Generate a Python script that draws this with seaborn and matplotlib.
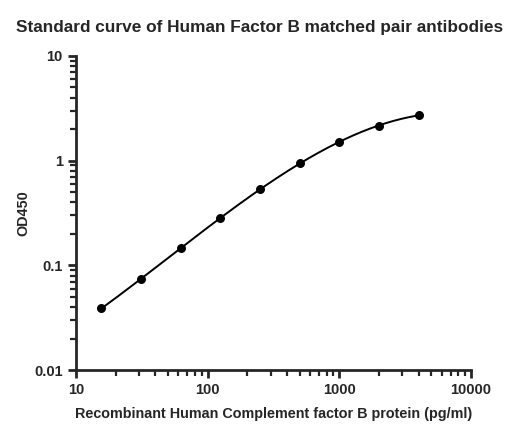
import numpy as np
import pandas as pd
import matplotlib
matplotlib.use("Agg")
import matplotlib.pyplot as plt
import seaborn as sns

# standard curve data
conc = [15.625, 31.25, 62.5, 125, 250, 500, 1000, 2000, 4000]
od450 = [0.039, 0.074, 0.146, 0.283, 0.536, 0.948, 1.51, 2.14, 2.73]

title = "Standard curve of Human Factor B matched pair antibodies"
xlabel = "Recombinant Human Complement factor B protein (pg/ml)"
ylabel = "OD450"

df = pd.DataFrame({"conc": conc, "od": od450})

sns.set_style("ticks")
plt.rcParams["font.family"] = ["Liberation Sans", "DejaVu Sans"]
plt.rcParams["font.weight"] = "bold"

fig = plt.figure(figsize=(5.2, 4.37), dpi=100)
ax = fig.add_axes([0.146, 0.153, 0.760, 0.719])

# smooth fitted curve in log-log space
lx = np.log10(df["conc"])
ly = np.log10(df["od"])
coef = np.polyfit(lx, ly, 3)
xs = np.linspace(lx.min(), lx.max(), 200)
fit = pd.DataFrame({"conc": 10 ** xs, "od": 10 ** np.polyval(coef, xs)})

sns.lineplot(data=fit, x="conc", y="od", color="black", linewidth=1.4, ax=ax)
sns.scatterplot(data=df, x="conc", y="od", color="black", s=42, edgecolor="black",
                linewidth=0, ax=ax, zorder=3)

ax.set_xscale("log")
ax.set_yscale("log")
ax.set_xlim(10, 10000)
ax.set_ylim(0.01, 10)
ax.set_xticks([10, 100, 1000, 10000])
ax.set_xticklabels(["10", "100", "1000", "10000"])
ax.set_yticks([0.01, 0.1, 1, 10])
ax.set_yticklabels(["0.01", "0.1", "1", "10"])

for s in ["top", "right"]:
    ax.spines[s].set_visible(False)
for s in ["left", "bottom"]:
    ax.spines[s].set_linewidth(2)

ax.tick_params(which="major", length=6, width=2, labelsize=10.5, direction="out")
ax.tick_params(which="minor", length=4, width=1.6, direction="out")

ax.set_xlabel(xlabel, fontsize=10.4, fontweight="bold", labelpad=7)
ax.set_ylabel(ylabel, fontsize=10.4, fontweight="bold", labelpad=3)
fig.suptitle(title, fontsize=12.4, fontweight="bold", x=0.5, y=0.936, va="center")

fig.savefig("out.png", dpi=100)
